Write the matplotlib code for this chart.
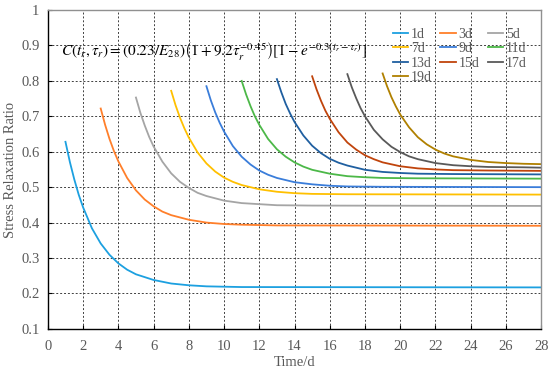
import matplotlib
matplotlib.use("Agg")
import matplotlib.pyplot as plt

plt.rcParams["font.family"] = ["Liberation Serif", "DejaVu Serif"]
plt.rcParams["mathtext.fontset"] = "stix"

# loading ages (d) and the time offsets after loading at which values were read
ages = [1, 3, 5, 7, 9, 11, 13, 15, 17, 19]
offsets = [0, 0.25, 0.5, 0.75, 1, 1.5, 2, 2.5, 3, 3.5, 4, 5, 6, 7, 8, 10]
t_end = 28

# stress relaxation ratio (last value is at t = 28 d)
r_1d = [0.628, 0.571, 0.522, 0.479, 0.443, 0.384, 0.341, 0.309, 0.285, 0.267, 0.254, 0.238, 0.228, 0.223, 0.220, 0.218, 0.217]
r_3d = [0.722, 0.676, 0.636, 0.602, 0.573, 0.526, 0.491, 0.465, 0.446, 0.431, 0.421, 0.408, 0.400, 0.396, 0.394, 0.392, 0.391]
r_5d = [0.753, 0.710, 0.674, 0.642, 0.615, 0.572, 0.539, 0.515, 0.498, 0.484, 0.475, 0.462, 0.455, 0.452, 0.449, 0.448, 0.447]
r_7d = [0.772, 0.731, 0.696, 0.666, 0.640, 0.598, 0.567, 0.544, 0.527, 0.515, 0.506, 0.494, 0.487, 0.483, 0.481, 0.480, 0.479]
r_9d = [0.785, 0.745, 0.711, 0.682, 0.657, 0.616, 0.586, 0.564, 0.547, 0.535, 0.526, 0.514, 0.508, 0.504, 0.502, 0.501, 0.500]
r_11d = [0.800, 0.762, 0.729, 0.700, 0.676, 0.636, 0.607, 0.586, 0.570, 0.558, 0.549, 0.538, 0.531, 0.528, 0.526, 0.525, 0.524]
r_13d = [0.805, 0.768, 0.735, 0.708, 0.684, 0.646, 0.617, 0.596, 0.580, 0.569, 0.561, 0.549, 0.543, 0.540, 0.538, 0.537, 0.536]
r_15d = [0.813, 0.776, 0.744, 0.716, 0.693, 0.655, 0.626, 0.606, 0.590, 0.579, 0.570, 0.559, 0.553, 0.550, 0.548, 0.547, 0.546]
r_17d = [0.819, 0.782, 0.751, 0.723, 0.700, 0.662, 0.635, 0.614, 0.599, 0.587, 0.579, 0.568, 0.562, 0.559, 0.557, 0.556, 0.555]
r_19d = [0.821, 0.785, 0.754, 0.728, 0.705, 0.669, 0.641, 0.621, 0.606, 0.595, 0.587, 0.577, 0.571, 0.568, 0.566, 0.565]
ratios = [r_1d, r_3d, r_5d, r_7d, r_9d, r_11d, r_13d, r_15d, r_17d, r_19d]

colors = ["#1ca0e0", "#ff7f2a", "#a5a5a5", "#ffc000", "#3a7dda",
          "#4cb848", "#1f5fa0", "#c0440c", "#595959", "#b08000"]

fig = plt.figure(figsize=(5.5, 3.72), dpi=100)
ax = fig.add_axes([0.087, 0.116, 0.897, 0.857])

lines = {}
for age, vals, c in zip(ages, ratios, colors):
    ts = [age + d for d in offsets if age + d < t_end] + [t_end]
    ln, = ax.plot(ts, vals, color=c, lw=1.3, label=f"{age}d")
    lines[age] = ln

ax.set_xlim(0, 28)
ax.set_ylim(0.1, 1.0)
ax.set_xticks(range(0, 29, 2))
ax.set_yticks([0.1, 0.2, 0.3, 0.4, 0.5, 0.6, 0.7, 0.8, 0.9, 1.0])
ax.set_yticklabels(["0.1", "0.2", "0.3", "0.4", "0.5", "0.6", "0.7", "0.8", "0.9", "1"])
ax.grid(True, ls=(0, (2, 2)), color="#404040", lw=0.7)
ax.tick_params(direction="in", length=3, labelsize=10.5, colors="#595959")
ax.tick_params(axis="x", pad=8)
ax.tick_params(axis="y", pad=6)
ax.tick_params(axis="both", color="black")
for s in ["left", "bottom"]:
    ax.spines[s].set_color("black")
    ax.spines[s].set_linewidth(1.0)
for s in ["top", "right"]:
    ax.spines[s].set_color("#909090")
    ax.spines[s].set_linewidth(1.0)

ax.set_xlabel("Time/d", fontsize=10.5, color="#595959", labelpad=2)
ax.set_ylabel("Stress Relaxation Ratio", fontsize=10.5, color="#595959", labelpad=3)

ax.text(9.4, 0.885,
        r"$C\left(t_r,\tau_r\right)=(0.23/E_{28})\left(1+9.2\tau_r^{-0.45}\right)\left[1-e^{-0.3(t_r-\tau_r)}\right]$",
        ha="center", va="center", fontsize=11)

order = [1, 7, 13, 19, 3, 9, 15, 5, 11, 17]
leg = ax.legend([lines[a] for a in order], [f"{a}d" for a in order],
                ncol=3, loc="upper left", bbox_to_anchor=(0.68, 0.975),
                frameon=False, fontsize=10, handlelength=1.1,
                handletextpad=0.2, columnspacing=0.6, labelspacing=0.1,
                borderpad=0.2)
for t in leg.get_texts():
    t.set_color("#595959")

fig.savefig("out.png", dpi=100)
